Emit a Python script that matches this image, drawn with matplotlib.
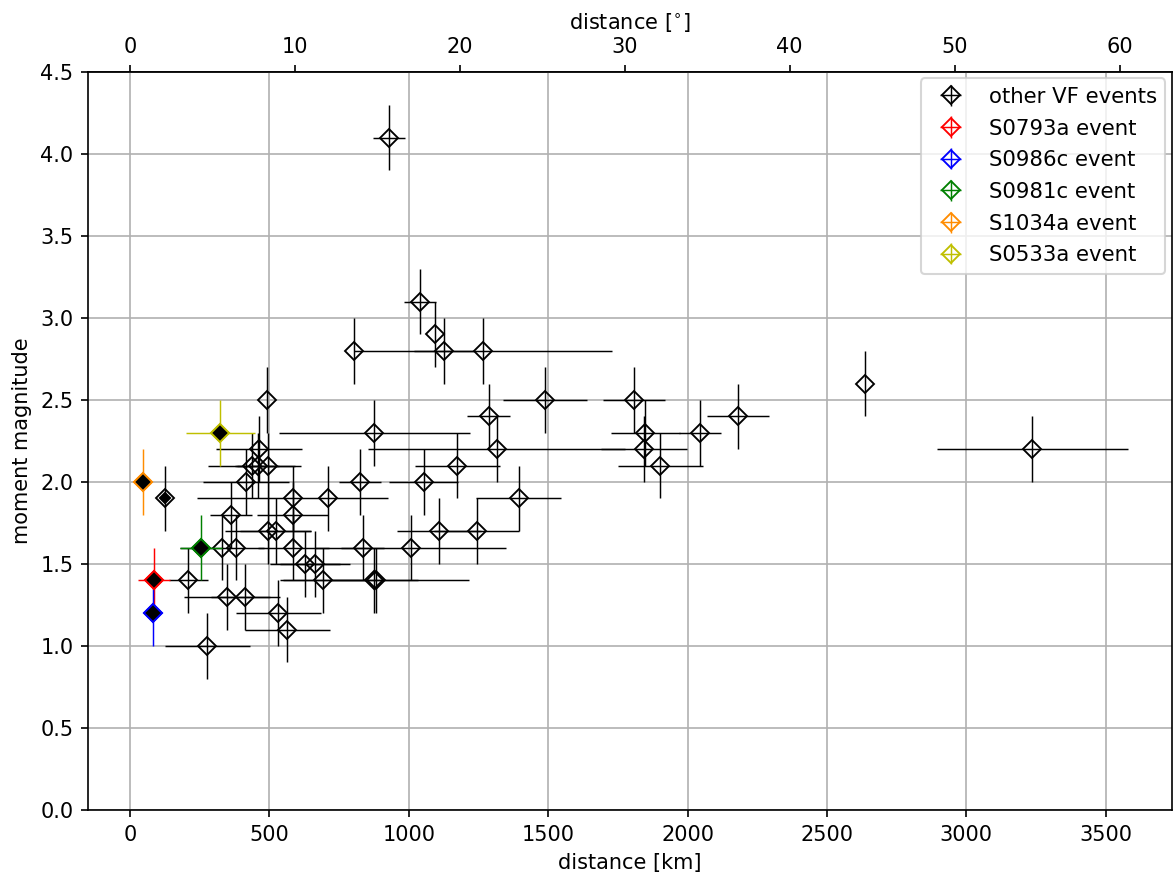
import numpy as np
import matplotlib
matplotlib.use('Agg')
import matplotlib.pyplot as plt

# other VF events: distance [km], moment magnitude, distance error [km]
dist = [930, 1040, 1094, 804, 1126, 1267, 2638, 491, 1488, 1808,
        1286, 2181, 876, 1848, 2045, 461, 1315, 1844, 3237, 436,
        459, 494, 1174, 1902, 415, 824, 1054, 125, 583, 711,
        1394, 361, 583, 495, 522, 1108, 1243, 329, 380, 586,
        834, 1007, 628, 663, 209, 693, 875, 882, 349, 414,
        532, 564, 277]
mag = [4.1, 3.1, 2.9, 2.8, 2.8, 2.8, 2.6, 2.5, 2.5, 2.5,
       2.4, 2.4, 2.3, 2.3, 2.3, 2.2, 2.2, 2.2, 2.2, 2.1,
       2.1, 2.1, 2.1, 2.1, 2.0, 2.0, 2.0, 1.9, 1.9, 1.9,
       1.9, 1.8, 1.8, 1.7, 1.7, 1.7, 1.7, 1.6, 1.6, 1.6,
       1.6, 1.6, 1.5, 1.5, 1.4, 1.4, 1.4, 1.4, 1.3, 1.3,
       1.2, 1.1, 1.0]
dist_err = [58, 57, 0, 0, 106, 462, 0, 0, 152, 112,
            76, 112, 343, 123, 76, 154, 460, 153, 343, 157,
            76, 118, 152, 153, 154, 76, 124, 0, 342, 0,
            152, 76, 127, 153, 126, 151, 151, 150, 0, 127,
            76, 343, 126, 126, 70, 155, 159, 333, 154, 124,
            152, 152, 152]
mag_err = 0.2

# highlighted events
ev_names = ['S0793a', 'S0986c', 'S0981c', 'S1034a', 'S0533a']
ev_dist = [87, 84, 255, 48, 323]
ev_mag = [1.4, 1.2, 1.6, 2.0, 2.3]
ev_dist_err = [57, 0, 76, 0, 124]
ev_colors = ['r', 'b', 'g', 'darkorange', 'y']

# event shown filled black
blk_dist = [125]
blk_mag = [1.9]

km_per_deg = 2 * np.pi * 3389.5 / 360.0

fig = plt.figure(figsize=(1173 / 150, 878 / 150), dpi=150)
ax = fig.add_axes([0.075, 0.0774, 0.924, 0.8406])

ax.errorbar(dist, mag, xerr=dist_err, yerr=mag_err, fmt='D', color='k',
            mfc='none', mec='k', ms=6, mew=0.9, elinewidth=0.7, capsize=0,
            label='other VF events', zorder=3)
ax.plot(blk_dist, blk_mag, 'D', color='k', ms=3.6, zorder=4)

for n, x, y, xe, c in zip(ev_names, ev_dist, ev_mag, ev_dist_err, ev_colors):
    ax.errorbar([x], [y], xerr=[xe], yerr=mag_err, fmt='D', color=c,
                mfc='none', mec=c, ms=6, mew=0.9, elinewidth=0.7, capsize=0,
                label=n + ' event', zorder=5)
    ax.plot([x], [y], 'D', mfc='k', mec=c, ms=6, mew=0.9, zorder=6)

ax.set_xlim(-151, 3737)
ax.set_ylim(0, 4.5)
ax.set_yticks(np.arange(0, 4.51, 0.5))
ax.set_xlabel('distance [km]')
ax.set_ylabel('moment magnitude')
ax.grid(True)

sec = ax.secondary_xaxis('top', functions=(lambda k: k / km_per_deg,
                                           lambda d: d * km_per_deg))
sec.set_xticks(np.arange(0, 61, 10))
sec.set_xlabel(r'distance [$^{\circ}$]')

ax.legend(loc='upper right', fontsize=10.2, borderaxespad=0.3,
          labelspacing=0.55)

fig.savefig('out.png', dpi=150)
